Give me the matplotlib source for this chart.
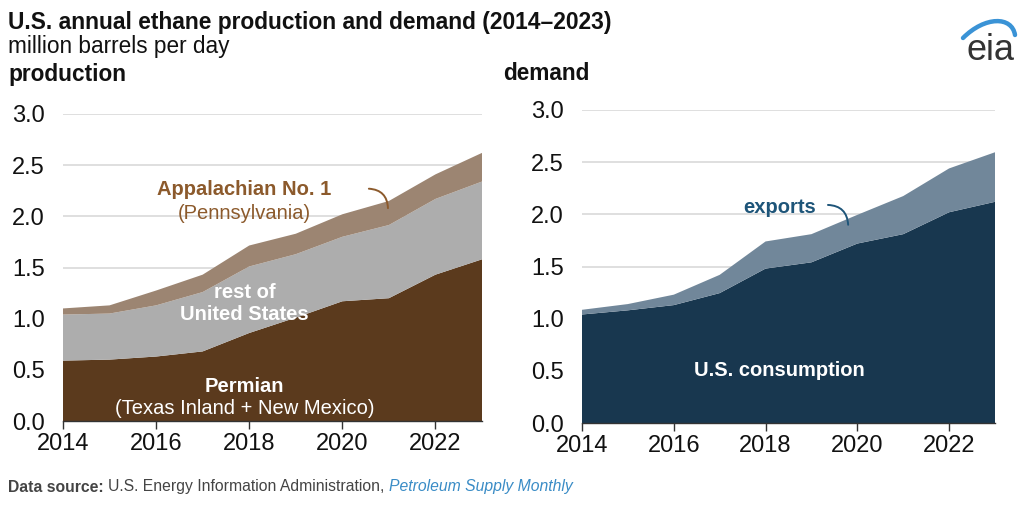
import numpy as np
import matplotlib.pyplot as plt
from matplotlib.path import Path
from matplotlib.patches import PathPatch

plt.rcParams['font.family'] = ['Liberation Sans', 'DejaVu Sans']

years = [2014, 2015, 2016, 2017, 2018, 2019, 2020, 2021, 2022, 2023]

# production, million barrels per day (stacked pieces)
permian = [0.59, 0.60, 0.63, 0.68, 0.86, 1.01, 1.17, 1.20, 1.43, 1.58]
rest_us = [0.45, 0.45, 0.50, 0.58, 0.65, 0.62, 0.63, 0.715, 0.74, 0.76]
appalachian = [0.06, 0.08, 0.145, 0.17, 0.205, 0.20, 0.22, 0.235, 0.24, 0.28]

# demand, million barrels per day
consumption = [1.04, 1.08, 1.13, 1.245, 1.48, 1.54, 1.72, 1.81, 2.02, 2.12]
exports = [0.045, 0.06, 0.10, 0.175, 0.26, 0.27, 0.275, 0.365, 0.42, 0.475]

yticks = [0.0, 0.5, 1.0, 1.5, 2.0, 2.5, 3.0]
xticks = [2014, 2016, 2018, 2020, 2022]

c_perm = '#5b3a1d'
c_rest = '#adadad'
c_app = '#9c8572'
c_app_txt = '#8c5a2c'
c_cons = '#18374f'
c_exp = '#71879a'
c_exp_txt = '#1e5579'

fig = plt.figure(figsize=(10.24, 5.07), dpi=100)
ax1 = fig.add_axes([63/1024, 1-421/507, 419/1024, 307/507])
ax2 = fig.add_axes([582/1024, 1-423/507, 413/1024, 313/507])


def style(ax):
    ax.set_xlim(2014, 2023)
    ax.set_ylim(0, 3.0)
    ax.set_yticks(yticks)
    ax.set_yticklabels(['%.1f' % v for v in yticks])
    ax.set_xticks(xticks)
    ax.grid(axis='y', color='#dcdcdc', linewidth=1.3, zorder=0)
    ax.set_axisbelow(True)
    for s in ['top', 'right', 'left']:
        ax.spines[s].set_visible(False)
    ax.spines['bottom'].set_color('#333333')
    ax.spines['bottom'].set_linewidth(1.0)
    ax.spines['bottom'].set_zorder(5)
    ax.tick_params(axis='y', length=0, pad=13, labelsize=17, labelcolor='#111111')
    ax.tick_params(axis='x', length=6, width=1, color='#333333', pad=3,
                   labelsize=17, labelcolor='#111111')


ax1.stackplot(years, permian, rest_us, appalachian,
              colors=[c_perm, c_rest, c_app], linewidth=0, zorder=2)
ax2.stackplot(years, consumption, exports,
              colors=[c_cons, c_exp], linewidth=0, zorder=2)
style(ax1)
style(ax2)

# left panel labels
lx = 2017.9
ax1.text(lx, 2.26, 'Appalachian No. 1', color=c_app_txt, fontsize=14.5,
         fontweight='bold', ha='center', va='center')
ax1.text(lx, 2.03, '(Pennsylvania)', color=c_app_txt, fontsize=14.5,
         ha='center', va='center')
ax1.annotate('', xy=(2020.98, 2.08), xytext=(2020.57, 2.27),
             arrowprops=dict(arrowstyle='-', color=c_app_txt, lw=1.4,
                             connectionstyle='arc3,rad=-0.45',
                             shrinkA=0, shrinkB=0))
ax1.text(lx, 1.26, 'rest of', color='white', fontsize=14.5,
         fontweight='bold', ha='center', va='center')
ax1.text(lx, 1.04, 'United States', color='white', fontsize=14.5,
         fontweight='bold', ha='center', va='center')
ax1.text(lx, 0.34, 'Permian', color='white', fontsize=14.5,
         fontweight='bold', ha='center', va='center')
ax1.text(lx, 0.12, '(Texas Inland + New Mexico)', color='white',
         fontsize=14.5, ha='center', va='center')

# right panel labels
rx = 2018.3
ax2.text(rx, 2.07, 'exports', color=c_exp_txt, fontsize=14.5,
         fontweight='bold', ha='center', va='center')
ax2.annotate('', xy=(2019.8, 1.9), xytext=(2019.36, 2.09),
             arrowprops=dict(arrowstyle='-', color=c_exp_txt, lw=1.4,
                             connectionstyle='arc3,rad=-0.45',
                             shrinkA=0, shrinkB=0))
ax2.text(rx, 0.5, 'U.S. consumption', color='white', fontsize=14.5,
         fontweight='bold', ha='center', va='center')

# titles
fig.text(8/1024, 1-22/507, 'U.S. annual ethane production and demand (2014\u20132023)',
         fontsize=16.4, fontweight='bold', va='center', color='#111111')
fig.text(8/1024, 1-47/507, 'million barrels per day', fontsize=16.3,
         va='center', color='#111111')
fig.text(8/1024, 1-74/507, 'production', fontsize=16.3, fontweight='bold',
         va='center', color='#111111')
fig.text(503/1024, 1-74/507, 'demand', fontsize=16.3, fontweight='bold',
         va='center', color='#111111')

# source line, pieces placed one after another
renderer = fig.canvas.get_renderer()
x = 8
for txt, kw in [('Data source: ', dict(fontweight='bold')),
                ('U.S. Energy Information Administration, ', dict()),
                ('Petroleum Supply Monthly', dict(style='italic', color='#3a8cc6'))]:
    kw.setdefault('color', '#444444')
    t = fig.text(x/1024, 1-487/507, txt, fontsize=11.3, va='center', **kw)
    x = t.get_window_extent(renderer).x1

# eia logo
fig.text(990/1024, 1-51/507, 'eia', fontsize=26, ha='center', va='center',
         color='#333333')
logo = fig.add_axes([0, 0, 1, 1], facecolor='none')
logo.set_xlim(0, 1024)
logo.set_ylim(507, 0)
logo.axis('off')
swoosh = Path([(963, 38), (985, 16), (1012, 16), (1015, 35)],
              [Path.MOVETO, Path.CURVE4, Path.CURVE4, Path.CURVE4])
logo.add_patch(PathPatch(swoosh, fill=False, edgecolor='#3a93d6', lw=3.2,
                         capstyle='round'))

fig.savefig('out.png', dpi=100)
